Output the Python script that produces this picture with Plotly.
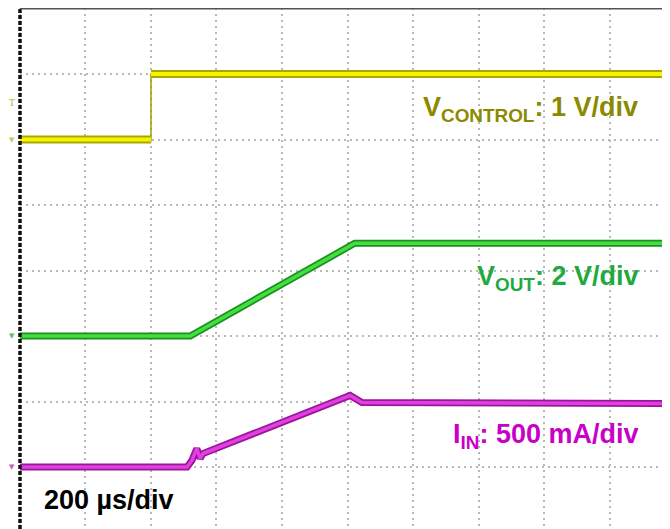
import plotly.graph_objects as go

# time axis, microseconds (200 us/div)
t_ctrl = [0, 400, 400, 1985]
v_ctrl = [0.0, 0.0, 1.0, 1.0]          # V_CONTROL, volts

t_out = [0, 520, 1022, 1985]
v_out = [0.0, 0.0, 2.83, 2.83]         # V_OUT, volts

t_in = [0, 510, 525, 540, 550, 559, 1008, 1044, 1985]
i_in = [0, 0, 50, 141, 65, 103, 546, 492, 485]   # I_IN, mA

# channel setup: (scale per div, ground level in divisions)
ch_ctrl = (1.0, 6.0)
ch_out = (2.0, 3.0)
ch_in = (500.0, 1.0)
trig_level = 0.56   # V_CONTROL trigger, volts


def to_div(values, ch):
    scale, ground = ch
    return [None if v is None else ground + v / scale for v in values]


fig = go.Figure()

# yellow: thin edge plus thick levels
fig.add_trace(go.Scatter(x=t_ctrl, y=to_div(v_ctrl, ch_ctrl), mode='lines',
                         line=dict(color='#a0a000', width=1.5)))
t_lvl = t_ctrl[:2] + [None] + t_ctrl[2:]
v_lvl = v_ctrl[:2] + [None] + v_ctrl[2:]
for color, width in [('#a8a800', 8), ('#f4f400', 4)]:
    fig.add_trace(go.Scatter(x=t_lvl, y=to_div(v_lvl, ch_ctrl), mode='lines',
                             line=dict(color=color, width=width), connectgaps=False))

for t, v, ch, dark, bright in [(t_out, v_out, ch_out, '#1f8f1f', '#3fe03f'),
                               (t_in, i_in, ch_in, '#9a159a', '#e040e0')]:
    for color, width in [(dark, 7), (bright, 3.5)]:
        fig.add_trace(go.Scatter(x=t, y=to_div(v, ch), mode='lines',
                                 line=dict(color=color, width=width)))

# hide grid left of the screen edge
fig.add_shape(type='rect', x0=-40, x1=-1, y0=0, y1=1, xref='x', yref='paper',
              fillcolor='white', line=dict(width=0), layer='above')
# screen borders
fig.add_shape(type='line', x0=0, x1=0, y0=0, y1=1, xref='x', yref='paper',
              line=dict(color='#111111', width=3.5, dash='4px,2px'))
fig.add_shape(type='line', x0=0, x1=1985, y0=8, y1=8, xref='x', yref='y',
              line=dict(color='#555555', width=2))

# ground and trigger markers left of the screen
for ch, color in [(ch_ctrl, '#c8c860'), (ch_out, '#60c060'), (ch_in, '#c060c0')]:
    fig.add_annotation(x=-25, y=ch[1], xref='x', yref='y', text='▼', showarrow=False,
                       font=dict(family='DejaVu Sans', size=7, color=color))
fig.add_annotation(x=-25, y=to_div([trig_level], ch_ctrl)[0], xref='x', yref='y', text='T',
                   showarrow=False, font=dict(family='DejaVu Serif', size=9, color='#b0b040'))

font = 'Arial, Liberation Sans, sans-serif'
labels = [
    ('V<sub>CONTROL</sub>: 1 V/div', 6.46, '#8a8a00'),
    ('V<sub>OUT</sub>: 2 V/div', 3.89, '#1faa3f'),
    ('I<sub>IN</sub>: 500 mA/div', 1.47, '#c800c8'),
]
for text, y, color in labels:
    fig.add_annotation(x=1893, y=y, xref='x', yref='y', text='<b>' + text + '</b>',
                       xanchor='right', yanchor='middle', showarrow=False,
                       font=dict(family=font, size=27, color=color))
fig.add_annotation(x=67, y=0.50, xref='x', yref='y', text='<b>200 µs/div</b>',
                   xanchor='left', yanchor='middle', showarrow=False,
                   font=dict(family=font, size=27, color='black'))

fig.update_xaxes(range=[-36.6, 1984.7], dtick=200, tick0=0, showgrid=True,
                 gridcolor='#b8b8b8', gridwidth=1.5, griddash='2px,4px',
                 showticklabels=False, zeroline=False, ticks='')
fig.update_yaxes(range=[8 - 520.5 / 65.5, 8 + 0.5 / 65.5], dtick=1, tick0=0, showgrid=True,
                 gridcolor='#b8b8b8', gridwidth=1.5, griddash='2px,4px',
                 showticklabels=False, zeroline=False, ticks='')
# page body adds 8px, so the figure is 8px smaller than the window
fig.update_layout(width=662, height=521, margin=dict(l=0, r=0, t=0, b=0),
                  plot_bgcolor='white', paper_bgcolor='white', showlegend=False)

fig.write_html("out.html")
